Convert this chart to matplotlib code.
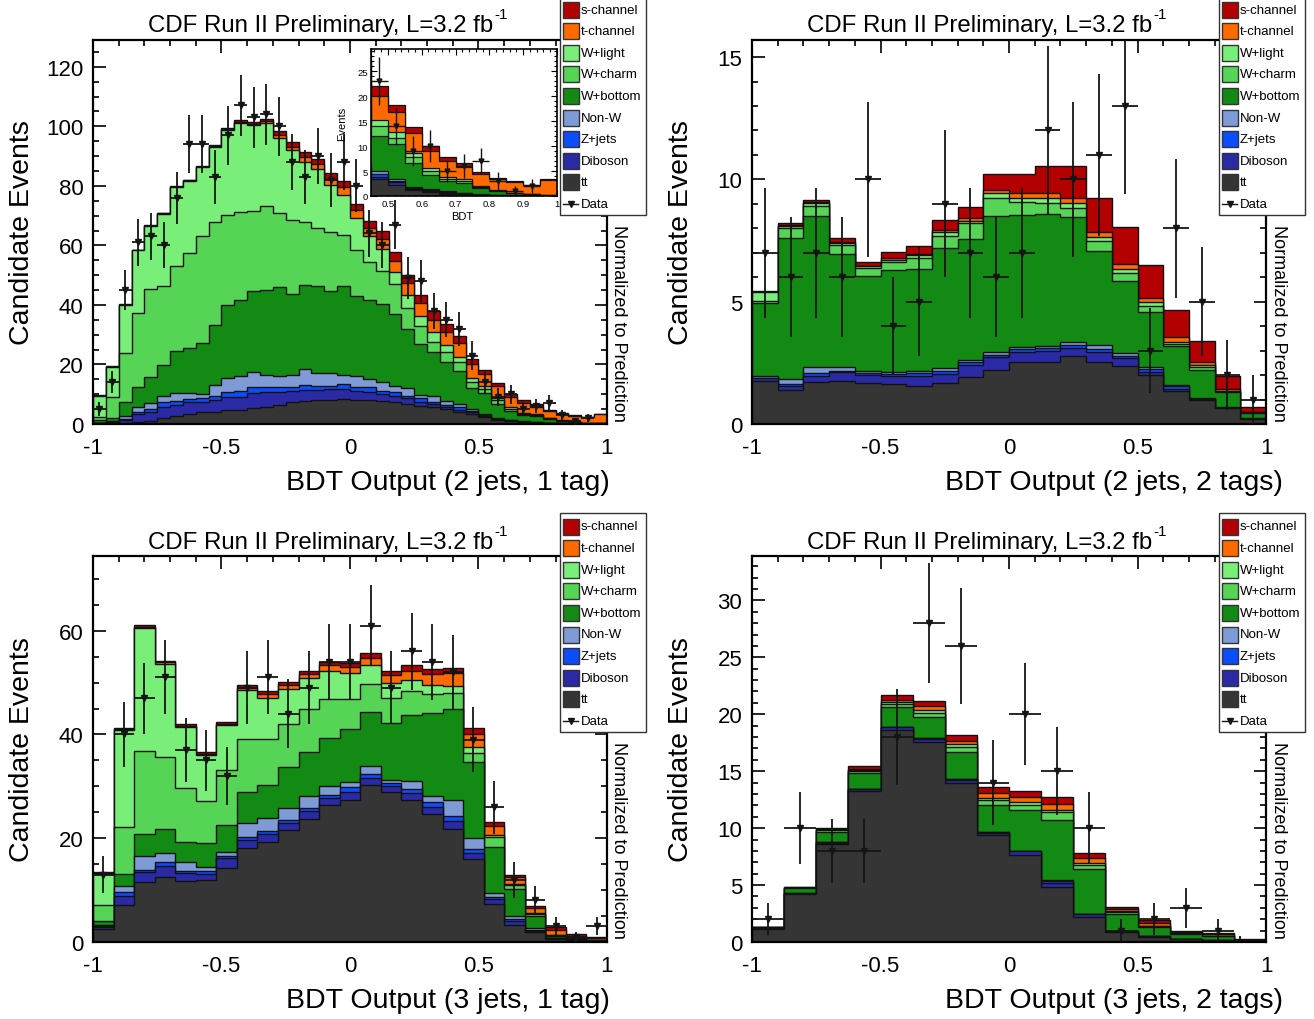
import numpy as np
import matplotlib
matplotlib.use("Agg")
import matplotlib.pyplot as plt
from matplotlib.patches import Rectangle
from matplotlib.ticker import MultipleLocator

plt.rcParams['font.family'] = ['Liberation Sans', 'DejaVu Sans']

# stacking order, bottom -> top
PROCESSES = ["tt", "Diboson", "Z+jets", "Non-W", "W+bottom", "W+charm", "W+light", "t-channel", "s-channel"]
COLORS = ["#353535", "#2a2aa6", "#0b4dfd", "#7f9bd5", "#138a13", "#56d456", "#79ee79", "#ff6a00", "#b30000"]

TITLE = "CDF Run II Preliminary, L=3.2 fb"
TITLE_SUP = "-1"

# ---------------- 2 jets, 1 tag (40 bins, -1..1) ----------------
p1_tt = [0.2,0.3,0.4,0.6,1.1,1.9,2.8,3.4,3.9,4.1, 4.8,4.7,5.3,5.6,6.4,7.3,7.8,8.2,8.2,8.4,
         8.2,8.0,7.8,7.3,6.8,6.2,5.6,5.0,4.1,3.4, 2.3,1.2,0.9,0.5,0.35,0.2,0.15,0.1,0.08,0.05]
p1_diboson = [0.1,0.3,1.0,2.6,2.9,3.7,3.7,3.9,3.6,4.1, 4.2,4.5,5.0,5.3,4.2,3.9,3.6,3.2,3.6,3.4,
              3.0,2.9,2.3,2.2,1.8,1.3,1.1,0.6,0.7,0.5, 0.5,0.3,0.2,0.2,0.15,0.08,0.05,0.03,0.02,0.02]
p1_zjets = [0.05,0.1,0.2,0.9,0.9,1.7,1.3,1.1,1.1,1.3, 1.6,1.8,2.0,1.4,1.9,1.1,1.7,1.5,1.1,1.6,
            1.1,1.4,1.1,1.1,0.9,1.2,0.6,0.8,0.8,0.5, 0.2,0.2,0.1,0.1,0.05,0.02,0.02,0.02,0.01,0.01]
p1_nonw = [0.15,0.2,1.0,1.5,2.0,2.0,2.6,1.9,1.5,3.6, 4.9,5.2,5.3,4.2,3.5,4.3,5.4,4.1,4.1,3.1,
           3.9,2.8,2.8,2.3,2.5,1.0,2.2,1.4,1.1,0.6, 0.4,0.2,0.2,0.2,0.15,0.05,0.03,0.02,0.01,0.01]
p1_wbottom = [0.7,1.1,4.7,6.7,9.0,10.6,14.2,15.1,17.0,20.3, 24.5,25.6,27.0,28.5,29.9,27.1,28.2,29.3,27.8,29.8,
              26.9,26.4,26.3,24.1,19.9,17.2,14.6,12.9,11.2,7.0, 7.0,4.8,2.8,2.0,2.0,1.35,0.75,0.38,0.28,0.16]
p1_wcharm = [1.0,7.2,16.6,24.9,29.3,26.6,28.6,31.9,36.0,34.6, 30.3,29.3,27.1,28.4,24.9,24.9,21.1,19.5,19.6,17.2,
             15.2,12.8,11.2,10.1,7.0,5.9,3.6,3.4,2.8,2.0, 1.3,1.2,0.8,0.5,0.3,0.15,0.1,0.07,0.05,0.03]
p1_wlight = [7.3,10.0,16.0,21.1,21.2,24.2,26.3,24.5,23.2,25.1, 28.6,30.0,28.7,27.7,25.3,23.3,20.1,19.7,15.8,13.5,
             10.8,9.0,7.3,4.1,4.5,3.4,3.1,2.6,1.7,1.3, 1.1,0.8,0.6,0.3,0.4,0.15,0.1,0.08,0.05,0.02]
p1_tchan = [0.05,0.1,0.1,0.1,0.1,0.1,0.1,0.1,0.2,0.2, 0.3,0.4,0.5,0.6,0.9,1.1,1.7,1.9,2.2,2.6,
            2.7,2.5,3.4,3.7,3.9,4.4,4.3,4.1,4.8,4.7, 4.0,3.9,3.5,3.2,2.4,2.4,2.2,2.1,1.7,2.9]
p1_schan = [0.05,0.1,0.2,0.2,0.2,0.2,0.2,0.2,0.2,0.3, 0.4,0.5,0.5,0.6,1.3,1.7,1.7,1.7,1.9,2.0,
            2.2,2.3,2.6,3.0,2.8,2.8,2.7,2.8,2.5,2.0, 1.5,1.3,1.0,0.9,0.9,0.4,0.3,0.2,0.1,0.2]
p1_data = [5,14,45,61,63,60,76,94,94,83, 97,107,103,104,100,88,83,90,82,88,
           80,64,60,67,49,48,38,35,32,23, 14,9,10,5,6,7,3,1,2,0]

# ---------------- 2 jets, 2 tags (20 bins) ----------------
p2_tt = [1.77,1.39,1.70,1.77,1.66,1.63,1.57,1.66,1.91,2.21, 2.52,2.55,2.77,2.55,2.38,2.00,1.36,0.99,0.64,0.20]
p2_diboson = [0.10,0.15,0.28,0.34,0.34,0.32,0.40,0.38,0.50,0.51, 0.41,0.45,0.32,0.38,0.32,0.14,0.07,0.03,0.02,0.01]
p2_zjets = [0.03,0.10,0.09,0.07,0.07,0.08,0.10,0.14,0.11,0.10, 0.12,0.10,0.14,0.14,0.10,0.11,0.11,0.02,0.01,0.01]
p2_nonw = [0.08,0.20,0.25,0.14,0.08,0.08,0.08,0.10,0.11,0.11, 0.11,0.10,0.14,0.16,0.10,0.07,0.05,0.01,0.01,0.01]
p2_wbottom = [2.95,5.76,6.19,4.63,3.89,4.20,4.19,4.91,4.93,5.56, 5.40,5.38,5.08,3.83,2.96,2.27,1.58,1.16,0.61,0.22]
p2_wcharm = [0.10,0.40,0.40,0.38,0.33,0.33,0.45,0.50,0.65,0.74, 0.50,0.45,0.38,0.44,0.30,0.25,0.10,0.12,0.03,0.02]
p2_wlight = [0.35,0.10,0.14,0.07,0.07,0.08,0.10,0.14,0.10,0.20, 0.20,0.19,0.20,0.13,0.18,0.13,0.07,0.08,0.02,0.01]
p2_tchan = [0.02,0.03,0.02,0.03,0.04,0.05,0.06,0.11,0.10,0.14, 0.18,0.22,0.23,0.20,0.20,0.20,0.23,0.11,0.08,0.02]
p2_schan = [0.02,0.07,0.10,0.16,0.15,0.25,0.31,0.40,0.48,0.67, 0.80,1.12,1.27,1.39,1.50,1.34,1.10,0.89,0.53,0.21]
p2_data = [7,6,7,6,10,4,5,9,7,6, 7,12,10,11,13,3,8,5,2,1]

# ---------------- 3 jets, 1 tag (25 bins) ----------------
p3_tt = [2.5,7.1,11.5,12.6,11.8,11.9,14.2,18.1,19.2,21.6, 23.7,26.5,27.4,30.3,29.0,27.4,24.7,21.8,16.0,7.3,
         3.3,1.9,0.6,0.3,0.15]
p3_diboson = [0.45,1.8,1.9,2.1,1.5,1.3,2.0,1.6,1.7,1.3, 1.6,1.2,1.6,1.3,1.0,1.3,1.4,1.6,1.1,0.9,
              0.7,0.3,0.1,0.05,0.02]
p3_zjets = [0.1,0.7,0.5,0.7,0.4,0.4,0.4,0.6,0.5,0.7, 0.5,0.6,0.8,0.8,0.6,0.8,0.8,0.8,0.8,0.4,
            0.4,0.2,0.05,0.02,0.01]
p3_nonw = [0.2,1.1,2.7,1.7,1.8,0.9,0.7,2.6,2.5,2.3, 2.4,1.7,1.1,1.6,0.7,1.6,1.3,3.2,2.1,0.8,
           0.7,0.3,0.05,0.03,0.02]
p3_wbottom = [0.8,2.5,4.3,4.7,3.7,4.5,5.3,6.1,6.4,7.8, 8.5,9.4,10.1,10.4,11.0,12.6,15.9,17.6,14.6,9.0,
              5.1,2.4,0.4,0.25,0.2]
p3_wcharm = [3.0,9.0,16.0,13.8,10.4,8.1,10.5,10.2,8.9,8.3, 8.2,7.4,5.8,5.4,4.7,4.6,3.7,2.9,1.9,1.9,
             0.8,0.3,0.1,0.05,0.03]
p3_wlight = [6.1,18.7,23.7,18.0,11.9,8.9,8.8,9.4,7.8,6.7, 5.9,5.5,5.0,3.6,3.0,2.2,1.8,1.5,1.0,0.4,
             0.2,0.1,0.05,0.02,0.02]
p3_tchan = [0.15,0.1,0.1,0.3,0.1,0.2,0.2,0.4,0.8,0.8, 0.8,1.0,1.2,1.3,1.4,1.8,2.0,2.4,2.6,1.7,
            1.3,1.0,0.9,0.5,0.35]
p3_schan = [0.1,0.2,0.4,0.3,0.4,0.5,0.4,0.5,0.5,0.7, 0.7,0.7,0.8,1.0,0.9,1.1,1.1,1.1,1.1,0.8,
            0.5,0.5,0.55,0.28,0.2]
p3_data = [13,40,47,51,37,35,32,49,51,44, 49,54,54,61,49,56,54,52,39,26, 12,8,3,1,3]

# ---------------- 3 jets, 2 tags (16 bins) ----------------
p4_tt = [1.14,4.2,8.6,13.25,18.6,17.6,14.0,9.4,7.65,4.8,2.17,0.9,0.47,0.22,0.12,0.03]
p4_diboson = [0.02,0.05,0.12,0.15,0.25,0.25,0.25,0.2,0.3,0.4,0.25,0.05,0.03,0.02,0.01,0.005]
p4_zjets = [0.01,0.02,0.03,0.03,0.03,0.03,0.03,0.03,0.05,0.2,0.04,0.02,0.01,0.01,0.01,0.005]
p4_nonw = [0.01,0.01,0.02,0.02,0.02,0.02,0.02,0.02,0.03,0.03,0.02,0.01,0.01,0.01,0.01,0.0]
p4_wbottom = [0.08,0.45,0.9,1.35,1.7,1.9,2.4,2.35,3.57,5.27,3.9,1.5,0.8,0.45,0.35,0.08]
p4_wcharm = [0.02,0.04,0.2,0.2,0.3,0.3,0.45,0.44,0.47,0.76,0.4,0.15,0.06,0.03,0.02,0.01]
p4_wlight = [0.01,0.01,0.03,0.1,0.2,0.3,0.21,0.23,0.2,0.12,0.12,0.06,0.02,0.01,0.01,0.0]
p4_tchan = [0.005,0.01,0.05,0.12,0.15,0.3,0.26,0.4,0.44,0.53,0.47,0.24,0.3,0.15,0.15,0.07]
p4_schan = [0.005,0.01,0.05,0.23,0.45,0.5,0.53,0.53,0.53,0.59,0.41,0.15,0.24,0.1,0.12,0.06]
p4_data = [2,10,8,8,18,28,26,14,20,15,10,1,2,3,1,0]

PANELS = [
    dict(comps=[p1_tt, p1_diboson, p1_zjets, p1_nonw, p1_wbottom, p1_wcharm, p1_wlight, p1_tchan, p1_schan],
         data=p1_data, ymax=129.0, ymaj=20, ymin=5, xlabel="BDT Output (2 jets, 1 tag)", xlab_right=610,
         rect=(93, 41, 514, 384)),
    dict(comps=[p2_tt, p2_diboson, p2_zjets, p2_nonw, p2_wbottom, p2_wcharm, p2_wlight, p2_tchan, p2_schan],
         data=p2_data, ymax=15.7, ymaj=5, ymin=1, xlabel="BDT Output (2 jets, 2 tags)", xlab_right=1283,
         rect=(752, 41, 514, 384)),
    dict(comps=[p3_tt, p3_diboson, p3_zjets, p3_nonw, p3_wbottom, p3_wcharm, p3_wlight, p3_tchan, p3_schan],
         data=p3_data, ymax=74.4, ymaj=20, ymin=5, xlabel="BDT Output (3 jets, 1 tag)", xlab_right=610,
         rect=(93, 557, 514, 386)),
    dict(comps=[p4_tt, p4_diboson, p4_zjets, p4_nonw, p4_wbottom, p4_wcharm, p4_wlight, p4_tchan, p4_schan],
         data=p4_data, ymax=33.9, ymaj=5, ymin=1, xlabel="BDT Output (3 jets, 2 tags)", xlab_right=1283,
         rect=(752, 557, 514, 386)),
]

W, H = 1314, 1020
fig = plt.figure(figsize=(W / 100, H / 100), dpi=100)


def px_axes(x, y, w, h):
    return fig.add_axes([x / W, 1 - (y + h) / H, w / W, h / H])


def draw_stack(ax, edges, comps, lw=1.0):
    comps = np.asarray(comps, float)
    cum = np.cumsum(comps, axis=0)
    for k in range(len(comps) - 1, -1, -1):
        ax.stairs(cum[k], edges, baseline=0, fill=True, facecolor=COLORS[k],
                  edgecolor="#111111", linewidth=lw, zorder=2)


def draw_data(ax, edges, data, ms=4.5, lw=1.3):
    d = np.asarray(data, float)
    c = 0.5 * (edges[:-1] + edges[1:])
    hw = 0.5 * (edges[1:] - edges[:-1])
    m = d > 0
    ax.errorbar(c[m], d[m], yerr=np.sqrt(d[m]), xerr=hw[m], fmt="v", color="#151515",
                ms=ms, lw=lw, capsize=0, zorder=6)


for p in PANELS:
    x0, y0, w0, h0 = p["rect"]
    ax = px_axes(x0, y0, w0, h0)
    n = len(p["data"])
    edges = np.linspace(-1, 1, n + 1)
    draw_stack(ax, edges, p["comps"])
    draw_data(ax, edges, p["data"])
    ax.set_xlim(-1, 1)
    ax.set_ylim(0, p["ymax"])
    ax.set_xticks([-1, -0.5, 0, 0.5, 1], labels=["-1", "-0.5", "0", "0.5", "1"])
    ax.xaxis.set_minor_locator(MultipleLocator(0.1))
    ax.yaxis.set_major_locator(MultipleLocator(p["ymaj"]))
    ax.yaxis.set_minor_locator(MultipleLocator(p["ymin"]))
    ax.tick_params(which="both", direction="in", top=True, right=True, labelsize=16, width=1.2)
    ax.tick_params(which="major", length=9)
    ax.tick_params(which="minor", length=4.5)
    ax.tick_params(axis="x", pad=9.5)
    ax.tick_params(axis="y", pad=7)
    for s in ax.spines.values():
        s.set_linewidth(1.6)
    ax.set_xlabel(p["xlabel"], fontsize=20.5, ha="right", va="center")
    ax.xaxis.set_label_coords((p["xlab_right"] - x0) / w0, -58 / h0)
    ax.set_ylabel("Candidate Events", fontsize=20.5, va="center", ha="center")
    ax.yaxis.set_label_coords(-0.138, 0.5)

# ---------------- inset of first panel (BDT > 0.45) ----------------
axi = px_axes(371, 50, 186, 147)
edges1 = np.linspace(-1, 1, 41)
draw_stack(axi, edges1, PANELS[0]["comps"], lw=0.9)
draw_data(axi, edges1, p1_data, ms=3.5, lw=1.0)
axi.set_xlim(0.45, 1.0)
axi.set_ylim(0, 29.5)
axi.set_xticks([0.5, 0.6, 0.7, 0.8, 0.9, 1.0], labels=["0.5", "0.6", "0.7", "0.8", "0.9", "1"])
axi.xaxis.set_minor_locator(MultipleLocator(0.02))
axi.yaxis.set_major_locator(MultipleLocator(5))
axi.yaxis.set_minor_locator(MultipleLocator(1))
axi.tick_params(which="both", direction="in", top=True, right=True, labelsize=6.8, width=0.8, pad=2)
axi.tick_params(which="major", length=4)
axi.tick_params(which="minor", length=2)
for s in axi.spines.values():
    s.set_linewidth(1.2)
axi.set_xlabel("BDT", fontsize=8, va="center")
axi.set_ylabel("Events", fontsize=8, va="center")
axi.xaxis.set_label_coords(0.49, -0.135)
axi.yaxis.set_label_coords(-0.155, 0.5)

# ---------------- overlay: titles, legends, side text ----------------
ov = fig.add_axes([0, 0, 1, 1])
ov.set_xlim(0, W)
ov.set_ylim(H, 0)
ov.axis("off")


def draw_legend(x0, y0):
    ov.add_patch(Rectangle((x0, y0 - 3), 85.5, 219, facecolor="white", edgecolor="#333333",
                           lw=1.0, zorder=10))
    labels = PROCESSES[::-1]
    cols = COLORS[::-1]
    for i, (lab, col) in enumerate(zip(labels, cols)):
        yc = y0 + 10.5 + 21.6 * i
        ov.add_patch(Rectangle((x0 + 3, yc - 8), 16, 16, facecolor=col, edgecolor="#333333",
                               lw=1.0, zorder=11))
        ov.text(x0 + 21, yc, lab, fontsize=9.5, va="center", ha="left", zorder=12)
    yc = y0 + 10.5 + 21.6 * 9
    ov.plot([x0 + 3, x0 + 18], [yc, yc], color="#151515", lw=1.0, zorder=11)
    ov.plot([x0 + 10.5], [yc], marker="v", color="#151515", ms=4, zorder=12)
    ov.text(x0 + 21, yc, "Data", fontsize=9.5, va="center", ha="left", zorder=12)


for dx in (0, 659):
    for dy in (0, 517):
        ov.text(493 + dx, 32 + dy, TITLE, fontsize=17.3, ha="right", va="baseline")
        ov.text(494 + dx, 19 + dy, TITLE_SUP, fontsize=11, ha="left", va="baseline")
        draw_legend(560 + dx, dy)
        ov.text(619 + dx, 225 + dy, "Normalized to Prediction", fontsize=13, rotation=-90,
                ha="center", va="top")

fig.savefig("out.png", dpi=100)
